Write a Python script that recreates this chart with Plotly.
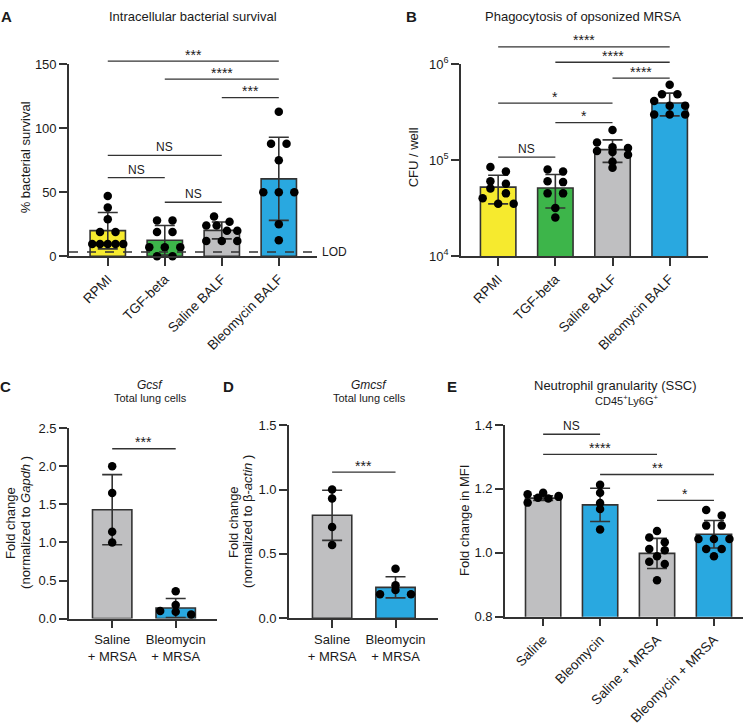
import math
import plotly.graph_objects as go

W, H = 753, 725
FONT = "Liberation Sans, Arial, Helvetica, sans-serif"
AX = "#333333"
TXT = "#1a1a1a"
YELLOW = "#F6EA2E"
GREEN = "#3DB54A"
GRAY = "#BFBFC1"
BLUE = "#29A8E0"

# ---------------- data ----------------
# Panel A: Intracellular bacterial survival (%)
a_groups = ["RPMI", "TGF-beta", "Saline BALF", "Bleomycin BALF"]
a_points = [
    [47, 38, 29, 19, 19, 9.5, 9.5, 9.5, 9.5, 9.5],
    [28, 28, 19, 19, 7, 7, 7, 0, 0],
    [31, 27, 24, 24, 20, 20, 12, 12, 12],
    [113, 88, 88, 75, 50, 50, 50, 25, 12.6],
]
a_mean = [20, 12.5, 20.2, 60.5]
a_sd = [14.2, 11.5, 6.6, 32.5]
a_lod = 3.3
a_yticks = [0, 50, 100, 150]
a_sig = [(0, 3, 152.5, "***"), (1, 3, 138.4, "****"), (2, 3, 124.0, "***"),
         (0, 2, 78.8, "NS"), (0, 1, 61.4, "NS"), (1, 2, 42.2, "NS")]

# Panel B: Phagocytosis of opsonized MRSA (CFU / well)
b_groups = ["RPMI", "TGF-beta", "Saline BALF", "Bleomycin BALF"]
b_points = [
    [85000, 76400, 60600, 56900, 50700, 45200, 40200, 35200, 35200],
    [80000, 76400, 60600, 59200, 45200, 45200, 31900, 25300],
    [207000, 153000, 137000, 134000, 125000, 121600, 114000, 96400, 83800],
    [611000, 488000, 488000, 415000, 370000, 370000, 300000, 300000, 300000],
]
b_mean = [52500, 51500, 129000, 395000]
b_sd = [17400, 19700, 33900, 105000]
b_yticks = [1e4, 1e5, 1e6]
b_yticktext = ["10<sup>4</sup>", "10<sup>5</sup>", "10<sup>6</sup>"]
b_sig = [(0, 3, 1.52e6, "****"), (1, 3, 1.05e6, "****"), (2, 3, 7.18e5, "****"),
         (0, 2, 3.93e5, "*"), (1, 2, 2.47e5, "*"), (0, 1, 1.08e5, "NS")]

# Panel C: Gcsf
c_groups = ["Saline<br>+ MRSA", "Bleomycin<br>+ MRSA"]
c_points = [[2.0, 1.65, 1.14, 1.0], [0.36, 0.18, 0.10, 0.09, 0.055]]
c_mean = [1.43, 0.14]
c_sd = [0.46, 0.125]
c_yticks = [0.0, 0.5, 1.0, 1.5, 2.0, 2.5]
c_sig = [(0, 1, 2.23, "***")]

# Panel D: Gmcsf
d_groups = ["Saline<br>+ MRSA", "Bleomycin<br>+ MRSA"]
d_points = [[1.0, 0.93, 0.71, 0.57], [0.385, 0.256, 0.186, 0.219, 0.186]]
d_mean = [0.80, 0.24]
d_sd = [0.195, 0.082]
d_yticks = [0.0, 0.5, 1.0, 1.5]
d_sig = [(0, 1, 1.136, "***")]

# Panel E: Neutrophil granularity
e_groups = ["Saline", "Bleomycin", "Saline + MRSA", "Bleomycin + MRSA"]
e_points = [
    [1.157, 1.183, 1.172, 1.188, 1.178, 1.17, 1.175],
    [1.213, 1.188, 1.156, 1.137, 1.073],
    [1.068, 1.048, 1.033, 1.012, 1.008, 0.989, 0.972, 0.965, 0.914],
    [1.134, 1.117, 1.085, 1.085, 1.043, 1.043, 1.043, 1.012, 1.012, 0.989],
]
e_mean = [1.171, 1.15, 0.998, 1.058]
e_sd = [0.007, 0.052, 0.047, 0.043]
e_yticks = [0.8, 1.0, 1.2, 1.4]
e_sig = [(0, 1, 1.371, "NS"), (0, 2, 1.308, "****"), (1, 3, 1.245, "**"), (2, 3, 1.164, "*")]

# ---------------- layout geometry (pixels) ----------------
panels = {
    "A": dict(xpx=(69, 317), xr=(-0.68, 3.67), ypx=(255, 57), yr=(0, 150), log=False),
    "B": dict(xpx=(461, 708), xr=(-0.65, 3.67), ypx=(255, 57), yr=(4, 6), log=True),
    "C": dict(xpx=(69, 217), xr=(-0.68, 1.65), ypx=(628.7, 432.3), yr=(0, 2.5), log=False),
    "D": dict(xpx=(289, 438), xr=(-0.68, 1.67), ypx=(628.3, 429.3), yr=(0, 1.5), log=False),
    "E": dict(xpx=(505, 743), xr=(-0.67, 3.51), ypx=(626.7, 429), yr=(0.8, 1.4), log=False),
}


def ypix(p, v):
    t = math.log10(v) if p["log"] else v
    y0, y1 = p["ypx"]
    r0, r1 = p["yr"]
    return y0 + (t - r0) / (r1 - r0) * (y1 - y0)


def xpix(p, c):
    x0, x1 = p["xpx"]
    r0, r1 = p["xr"]
    return x0 + (c - r0) / (r1 - r0) * (x1 - x0)


def px_per_cat(p):
    return (p["xpx"][1] - p["xpx"][0]) / (p["xr"][1] - p["xr"][0])


def swarm_offsets(vals, p, thr=6.0):
    pys = [ypix(p, v) for v in vals]
    order = sorted(range(len(vals)), key=lambda i: -pys[i])
    groups = []
    for i in order:
        if groups and abs(pys[groups[-1][0]] - pys[i]) <= thr:
            groups[-1].append(i)
        else:
            groups.append([i])
    offs = [0.0] * len(vals)
    ppc = px_per_cat(p)
    for g in groups:
        g.sort()
        k = len(g)
        if k > 1:
            s = min(15.5, 31.0 / (k - 1))
            for j, i in enumerate(g):
                offs[i] = (j - (k - 1) / 2) * s / ppc
    return offs


fig = go.Figure()
shapes = []
annotations = []
layout_axes = {}


def add_panel(key, idx, cats, colors, points, mean, sd, yticks, yticktext, tickangle, sig):
    p = panels[key]
    sfx = "" if idx == 1 else str(idx)
    xa, ya = "x" + sfx, "y" + sfx
    n = len(cats)
    fig.add_trace(go.Bar(
        x=list(range(n)), y=mean, width=0.62,
        marker=dict(color=colors, line=dict(color=AX, width=1.6)),
        error_y=dict(type="data", array=sd, color=AX, thickness=1.6, width=10),
        xaxis=xa, yaxis=ya, showlegend=False, hoverinfo="skip",
    ))
    for c, vals in enumerate(points):
        offs = swarm_offsets(vals, p)
        fig.add_trace(go.Scatter(
            x=[c + o for o in offs], y=vals, mode="markers",
            marker=dict(color="black", size=8.5),
            xaxis=xa, yaxis=ya, showlegend=False, cliponaxis=False, hoverinfo="skip",
        ))
    xdom = [p["xpx"][0] / W, p["xpx"][1] / W]
    ydom = [1 - p["ypx"][0] / H, 1 - p["ypx"][1] / H]
    common = dict(showline=True, linecolor=AX, linewidth=1.6, ticks="outside", ticklen=8,
                  tickwidth=1.6, tickcolor=AX, showgrid=False, zeroline=False)
    xfs = 13.5 if tickangle else 13
    layout_axes["xaxis" + sfx] = dict(domain=xdom, anchor=ya, range=list(p["xr"]),
                                      tickvals=list(range(n)), ticktext=cats,
                                      tickangle=tickangle,
                                      tickfont=dict(size=xfs, color=TXT, family=FONT), **common)
    yax = dict(domain=ydom, anchor=xa, range=list(p["yr"]), tickvals=yticks,
               tickfont=dict(size=13, color=TXT, family=FONT), **common)
    if yticktext is not None:
        yax["ticktext"] = yticktext
    if p["log"]:
        yax["type"] = "log"
    layout_axes["yaxis" + sfx] = yax
    for (c0, c1, lvl, lab) in sig:
        yy = 1 - ypix(p, lvl) / H
        x0 = xpix(p, c0) / W
        x1 = xpix(p, c1) / W
        shapes.append(dict(type="line", xref="paper", yref="paper", x0=x0, x1=x1, y0=yy, y1=yy,
                           line=dict(color=AX, width=1.3)))
        star = lab != "NS"
        annotations.append(dict(xref="paper", yref="paper", x=(x0 + x1) / 2, y=yy,
                                text=lab, showarrow=False, xanchor="center", yanchor="bottom",
                                yshift=-3.5 if star else -1,
                                font=dict(size=14 if star else 12, color=TXT, family=FONT)))


add_panel("A", 1, a_groups, [YELLOW, GREEN, GRAY, BLUE], a_points, a_mean, a_sd,
          a_yticks, None, -45, a_sig)
add_panel("B", 2, b_groups, [YELLOW, GREEN, GRAY, BLUE], b_points, b_mean, b_sd,
          b_yticks, b_yticktext, -45, b_sig)
add_panel("C", 3, c_groups, [GRAY, BLUE], c_points, c_mean, c_sd,
          c_yticks, [f"{v:.1f}" for v in c_yticks], 0, c_sig)
add_panel("D", 4, d_groups, [GRAY, BLUE], d_points, d_mean, d_sd,
          d_yticks, [f"{v:.1f}" for v in d_yticks], 0, d_sig)
add_panel("E", 5, e_groups, [GRAY, BLUE, GRAY, BLUE], e_points, e_mean, e_sd,
          e_yticks, [f"{v:.1f}" for v in e_yticks], -45, e_sig)

# LOD line in panel A
pA = panels["A"]
shapes.append(dict(type="line", xref="x", yref="y", x0=pA["xr"][0], x1=pA["xr"][1],
                   y0=a_lod, y1=a_lod, line=dict(color=AX, width=1.5, dash="dash")))
annotations.append(dict(xref="x", yref="y", x=pA["xr"][1], y=a_lod, text="LOD", showarrow=False,
                        xanchor="left", yanchor="middle", xshift=3,
                        font=dict(size=12, color=TXT, family=FONT)))


def text_at(px, py, text, size=13, bold=False, angle=0, xanchor="center"):
    if bold:
        text = "<b>" + text + "</b>"
    annotations.append(dict(xref="paper", yref="paper", x=px / W, y=1 - py / H, text=text,
                            showarrow=False, xanchor=xanchor, yanchor="middle", textangle=angle,
                            font=dict(size=size, color=TXT, family=FONT)))


# panel letters
text_at(6, 8, "A", 15, bold=True)
text_at(412, 8, "B", 15, bold=True)
text_at(5, 389, "C", 15, bold=True)
text_at(228, 389, "D", 15, bold=True)
text_at(452, 389, "E", 15, bold=True)

# titles
text_at(193, 8, "Intracellular bacterial survival", 13)
text_at(583, 8, "Phagocytosis of opsonized MRSA", 13)
text_at(150, 388, "<i>Gcsf</i>", 12)
text_at(150, 401, "Total lung cells", 11)
text_at(369, 388, "<i>Gmcsf</i>", 12)
text_at(369, 401, "Total lung cells", 11)
text_at(615, 388, "Neutrophil granularity (SSC)", 13)
text_at(627, 403, "CD45<sup>+</sup>Ly6G<sup>+</sup>", 11)

# axis titles
text_at(25, 153, "% bacterial survival", 13, angle=-90)
text_at(413, 153, "CFU / well", 13, angle=-90)
text_at(11, 530, "Fold change", 13, angle=-90)
text_at(26, 530, "(normalized to <i>Gapdh</i> )", 13, angle=-90)
text_at(234, 529, "Fold change", 13, angle=-90)
text_at(248, 529, "(normalized to β-<i>actin</i> )", 13, angle=-90)
text_at(465, 528, "Fold change in MFI", 13, angle=-90)

fig.update_layout(
    width=W, height=H, margin=dict(l=0, r=0, t=0, b=0),
    paper_bgcolor="white", plot_bgcolor="white",
    font=dict(family=FONT, color=TXT),
    shapes=shapes, annotations=annotations, showlegend=False,
    **layout_axes,
)

fig.write_html("out.html", config={"displayModeBar": False},
               post_script="document.body.style.margin='0px';")
